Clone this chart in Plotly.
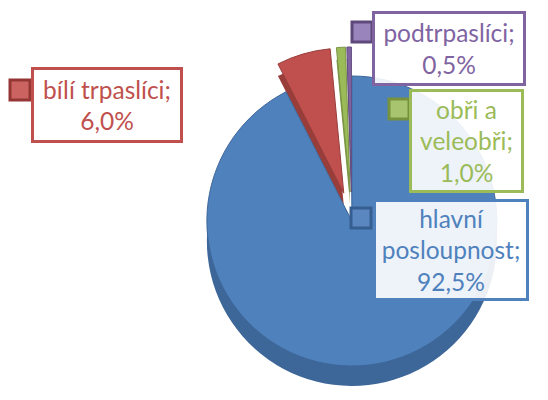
import plotly.graph_objects as go

categories = ["hlavní posloupnost", "bílí trpaslíci", "obři a veleobři", "podtrpaslíci"]
values = [92.5, 6.0, 1.0, 0.5]
value_labels = ["92,5%", "6,0%", "1,0%", "0,5%"]
pulls = [0, 0.2, 0.2, 0.2]

top_colors = ["#4F81BD", "#C0504D", "#9BBB59", "#8064A2"]
side_colors = ["#3E6799", "#983D3A", "#7A9545", "#644E82"]
key_edge = ["#365F91", "#943634", "#76923C", "#5F497A"]
key_fill = ["#5B87C0", "#CB6461", "#A9C46E", "#9A84BC"]
CLEAR = "rgba(0,0,0,0)"

FONT = "Lato"
W, H = 548, 400
OFF = 8  # page body margin in the browser


def py(px_from_top):
    return 1 - px_from_top / H


common = dict(labels=categories, values=values, sort=False, direction="clockwise", rotation=0,
              textinfo="none", hoverinfo="skip", showlegend=False)
xdom = [0.30, 0.955]

fig = go.Figure()
# side wall of the big slice (no pull)
fig.add_trace(go.Pie(
    **common, pull=[0] * len(values),
    marker=dict(colors=[side_colors[0], CLEAR, CLEAR, CLEAR], line=dict(width=0)),
    domain=dict(x=xdom, y=[0.055, 0.78]),
))
# side walls of the exploded slices
fig.add_trace(go.Pie(
    **common, pull=pulls,
    marker=dict(colors=[CLEAR] + side_colors[1:], line=dict(width=0)),
    domain=dict(x=xdom, y=[0.0025, 0.8725]),
))
# top face
fig.add_trace(go.Pie(
    **common, pull=pulls,
    marker=dict(colors=top_colors, line=dict(width=1, color=side_colors)),
    domain=dict(x=xdom, y=[0.0325, 0.9025]),
))

# label boxes: (category index, center x, center y, inner w, inner h, text) in reference pixels
boxes = [
    (1, 107, 105, 146, 70, f"{categories[1]};<br>{value_labels[1]}"),
    (3, 449, 48.5, 148, 69, f"{categories[3]};<br>{value_labels[3]}"),
    (2, 466.5, 141, 109, 98, "obři a<br>veleobři;<br>" + value_labels[2]),
    (0, 451, 250, 150, 96, "hlavní<br>posloupnost;<br>" + value_labels[0]),
]
keys = [(1, 10, 80), (3, 352, 22), (2, 389, 99), (0, 351, 208)]

for i, cx, cy, w, h, txt in boxes:
    fig.add_annotation(
        x=(cx - OFF) / W, y=py(cy - OFF), xref="paper", yref="paper",
        xanchor="center", yanchor="middle",
        text=txt, showarrow=False, width=w, height=h, align="center", valign="middle",
        font=dict(family=FONT, size=24.5, color=top_colors[i]),
        bgcolor="rgba(255,255,255,0.9)", bordercolor=top_colors[i], borderwidth=3, borderpad=0,
    )

for i, x0, y0 in keys:
    fig.add_shape(
        type="rect", xref="paper", yref="paper",
        x0=(x0 - OFF) / W, x1=(x0 - OFF + 20) / W, y0=py(y0 - OFF + 20), y1=py(y0 - OFF),
        fillcolor=key_fill[i], line=dict(color=key_edge[i], width=3),
    )

fig.update_layout(
    width=W, height=H, margin=dict(l=0, r=0, t=0, b=0),
    paper_bgcolor="white", plot_bgcolor="white",
    font=dict(family=FONT),
)

fig.write_html("out.html")
